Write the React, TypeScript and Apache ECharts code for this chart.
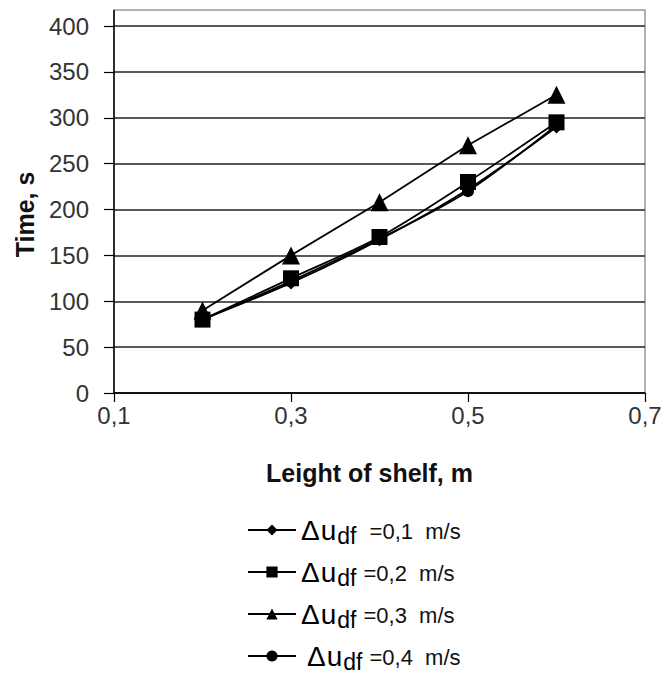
import React, { useEffect, useRef } from "react";
import * as echarts from "echarts";

const xCategories = ["0,1", "0,2", "0,3", "0,4", "0,5", "0,6", "0,7"];
const xPoints = ["0,2", "0,3", "0,4", "0,5", "0,6"];
const yTicks = { min: 0, max: 400, interval: 50 };

const seriesNames = [
  "Δudf =0,1 m/s",
  "Δudf =0,2 m/s",
  "Δudf =0,3 m/s",
  "Δudf=0,4 m/s",
];
const legendSuffix = [" =0,1  m/s", "=0,2  m/s", "=0,3  m/s", "=0,4  m/s"];
const legendDeltaStyle = ["d", "d", "d", "d4"];
const symbols = ["diamond", "rect", "triangle", "circle"];

const v01 = [80, 120, 167, 222, 290];
const v02 = [80, 125, 170, 230, 295];
const v03 = [90, 150, 208, 270, 325];
const v04 = [80, 122, 168, 220, 292];
const allValues = [v01, v02, v03, v04];

const FONT = "'Liberation Sans', Arial, sans-serif";

export default function App() {
  const ref = useRef<HTMLDivElement>(null);
  useEffect(() => {
    if (!ref.current) return;
    const chart = echarts.init(ref.current, undefined, { renderer: "svg" });
    const symbolSizes = [13, 16, 18, 12];
    const series = allValues.map((vals, i) => ({
      type: "line",
      name: seriesNames[i],
      data: xPoints.map((x, j) => [x, vals[j]]),
      symbol: symbols[i],
      symbolSize: symbolSizes[i],
      smooth: i === 2 ? false : 0.3,
      lineStyle: { color: "#000", width: 1.8 },
      itemStyle: { color: "#000" },
      z: 3,
    }));
    const big = { fontFamily: FONT, fontSize: 28, color: "#000", lineHeight: 32, verticalAlign: "middle" };
    chart.setOption({
      animation: false,
      backgroundColor: "#fff",
      grid: { left: 114, right: 20, top: 26, bottom: 280 },
      xAxis: {
        type: "category",
        data: xCategories,
        boundaryGap: false,
        name: "Leight of shelf, m",
        nameLocation: "middle",
        nameGap: 67,
        nameTextStyle: {
          fontFamily: FONT,
          fontWeight: "bold",
          fontSize: 25,
          color: "#111",
          padding: [0, 20, 0, 0],
        },
        axisLine: { lineStyle: { color: "#000", width: 1.5 } },
        axisTick: { interval: 1, length: 9, lineStyle: { color: "#000", width: 1.2 } },
        axisLabel: {
          interval: 1,
          margin: 10,
          fontFamily: FONT,
          fontSize: 24,
          color: "#333",
        },
        splitLine: { show: false },
      },
      yAxis: {
        type: "value",
        min: yTicks.min,
        max: yTicks.max,
        interval: yTicks.interval,
        name: "Time, s",
        nameLocation: "middle",
        nameGap: 77,
        nameTextStyle: {
          fontFamily: FONT,
          fontWeight: "bold",
          fontSize: 25,
          color: "#111",
          padding: [0, 10, 0, 0],
        },
        axisLine: { show: true, lineStyle: { color: "#000", width: 1.5 } },
        axisTick: { show: true, length: 10, lineStyle: { color: "#000", width: 1.2 } },
        axisLabel: {
          margin: 25,
          fontFamily: FONT,
          fontSize: 24,
          color: "#333",
        },
        splitLine: { show: true, lineStyle: { color: "#222", width: 1.5 } },
      },
      legend: {
        orient: "vertical",
        left: 247,
        top: 513,
        height: 160,
        padding: 0,
        itemWidth: 48,
        itemHeight: 14,
        itemGap: 8,
        data: seriesNames,
        formatter: (name: string) => {
          const i = seriesNames.indexOf(name);
          return `{${legendDeltaStyle[i]}|Δ}{u|u}{b|df}{c|${legendSuffix[i]}}`;
        },
        textStyle: {
          fontFamily: FONT,
          color: "#000",
          rich: {
            d: { ...big, padding: [0, 1, 0, 0] },
            d4: { ...big, padding: [0, 1, 0, 6] },
            u: { ...big },
            b: {
              fontFamily: FONT,
              fontSize: 23,
              color: "#000",
              lineHeight: 20,
              verticalAlign: "middle",
              padding: [11, 7, 0, 1],
            },
            c: { fontFamily: FONT, fontSize: 22, color: "#111", lineHeight: 22, verticalAlign: "middle", padding: [2, 0, 0, 0] },
          },
        },
      },
      graphic: [
        {
          type: "rect",
          z: 0,
          silent: true,
          shape: { x: 114, y: 10, width: 531, height: 383 },
          style: { fill: "none", stroke: "#999", lineWidth: 1.5 },
        },
        {
          type: "line",
          z: 0,
          silent: true,
          shape: { x1: 114, y1: 10, x2: 114, y2: 27 },
          style: { stroke: "#000", lineWidth: 1.5 },
        },
      ],
      series,
    });
    return () => chart.dispose();
  }, []);
  return (
    <div
      ref={ref}
      style={{ position: "fixed", left: 0, top: 0, width: 665, height: 673, background: "#fff" }}
    />
  );
}
